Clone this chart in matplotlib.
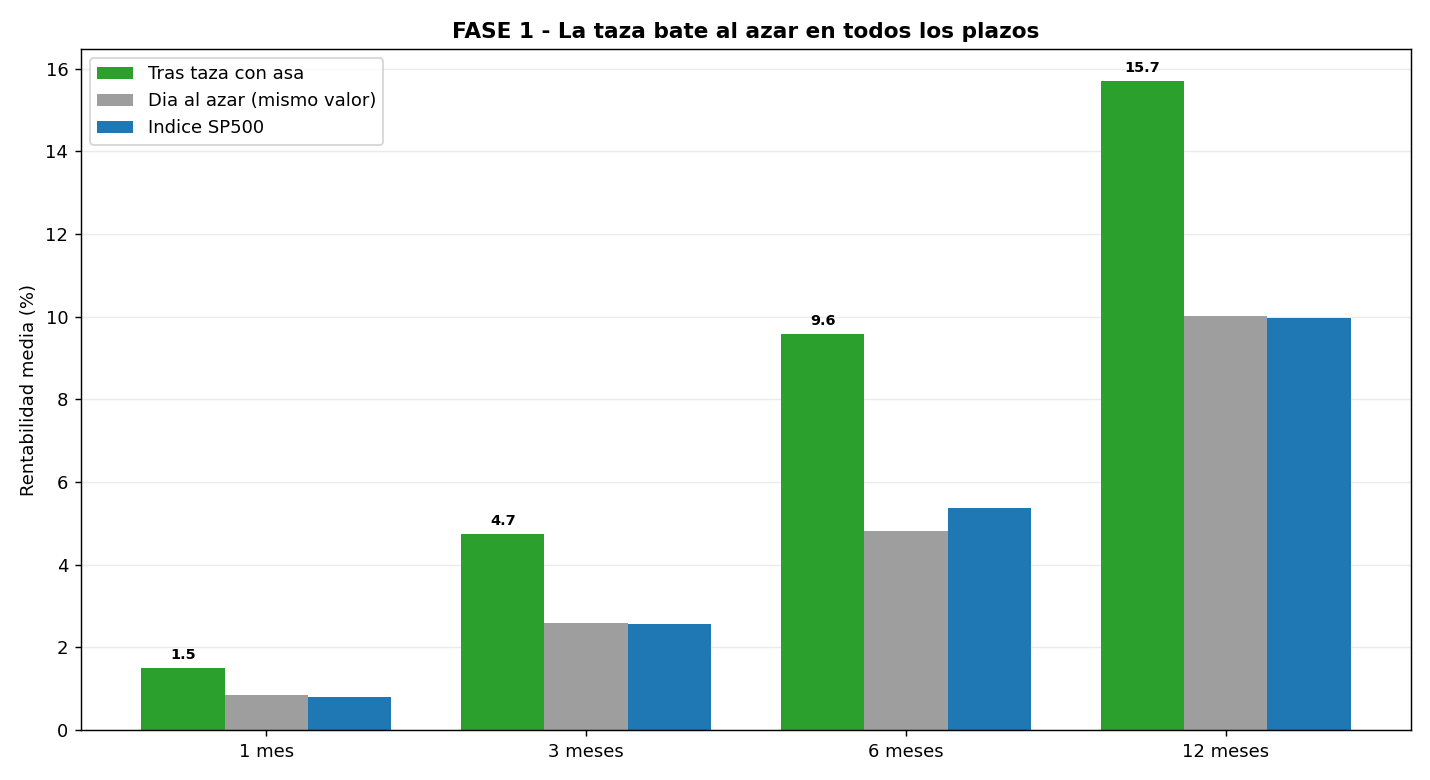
import matplotlib
matplotlib.use("Agg")
import matplotlib.pyplot as plt
import numpy as np

categories = ["1 mes", "3 meses", "6 meses", "12 meses"]
taza = [1.50, 4.74, 9.57, 15.69]
azar = [0.85, 2.59, 4.81, 10.01]
sp500 = [0.80, 2.56, 5.37, 9.96]
labels = ["Tras taza con asa", "Dia al azar (mismo valor)", "Indice SP500"]

fig, ax = plt.subplots(figsize=(11, 6), dpi=130)
fig.subplots_adjust(left=81/1430, right=1411/1430, top=1-49/780, bottom=1-730/780)
x = np.arange(len(categories))
w = 0.26
ax.bar(x - w, taza, w, color="#2ca02c", label=labels[0])
ax.bar(x, azar, w, color="#9e9e9e", label=labels[1])
ax.bar(x + w, sp500, w, color="#1f77b4", label=labels[2])
for xi, v in zip(x - w, taza):
    ax.text(xi, v + 0.15, f"{v:.1f}", ha="center", va="bottom", fontsize=8, fontweight="bold")
ax.set_xticks(x)
ax.set_xticklabels(categories)
ax.set_ylabel("Rentabilidad media (%)")
ax.set_title("FASE 1 - La taza bate al azar en todos los plazos", fontsize=12, fontweight="bold")
ax.grid(axis="y", alpha=0.25)
ax.set_axisbelow(True)
ax.legend(loc="upper left")
fig.savefig("out.png", dpi=130)
